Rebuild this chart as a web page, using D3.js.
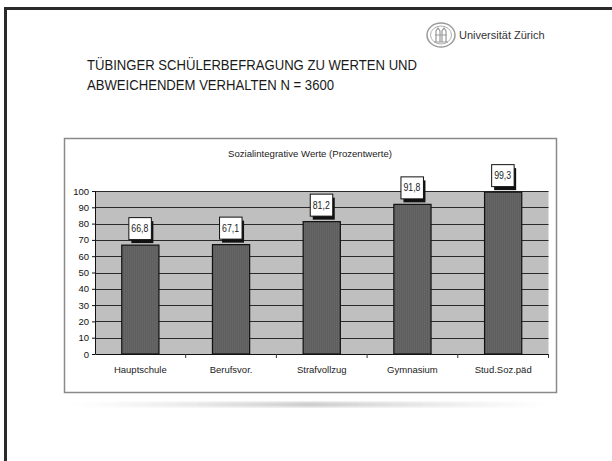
<!DOCTYPE html>
<html><head><meta charset="utf-8">
<script src="https://cdn.jsdelivr.net/npm/d3@7/dist/d3.min.js"></script>
<style>html,body{margin:0;padding:0;background:#fff;}svg{display:block;}</style>
</head><body>
<script>
const categories = ["Hauptschule", "Berufsvor.", "Strafvollzug", "Gymnasium", "Stud.Soz.päd"];
const values = [66.8, 67.1, 81.2, 91.8, 99.3];
const yTicks = [0, 10, 20, 30, 40, 50, 60, 70, 80, 90, 100];
const titleLines = ["TÜBINGER SCHÜLERBEFRAGUNG ZU WERTEN UND", "ABWEICHENDEM VERHALTEN N = 3600"];
const chartTitle = "Sozialintegrative Werte (Prozentwerte)";
const logoText = "Universität Zürich";

const W = 612, H = 461;
const svg = d3.select("body").append("svg").attr("width", W).attr("height", H);
const defs = svg.append("defs");

svg.append("rect").attr("width", W).attr("height", H).attr("fill", "#fff");

// slide frame (top & left)
svg.append("path").attr("d", "M5.5,461 V8.5 H612").attr("fill", "none")
  .attr("stroke", "#2a2a2a").attr("stroke-width", 3);

// title (condensed)
const font = "'Liberation Sans Narrow','Arial Narrow','Liberation Sans',Arial,sans-serif";
const titleWidths = [330, 247];
svg.append("g").selectAll("text").data(titleLines).join("text")
  .attr("x", 87).attr("y", (d, i) => 70 + i * 20)
  .attr("font-family", font).attr("font-size", 15.5).attr("fill", "#1a1a1a")
  .attr("textLength", (d, i) => titleWidths[i]).attr("lengthAdjust", "spacingAndGlyphs")
  .text(d => d);

// logo
const logo = svg.append("g").attr("transform", "translate(441,35)");
logo.append("ellipse").attr("rx", 14).attr("ry", 12).attr("fill", "#fff").attr("stroke", "#9a9a9a").attr("stroke-width", 1.5);
logo.append("ellipse").attr("rx", 10.5).attr("ry", 9).attr("fill", "none").attr("stroke", "#b0b0b0").attr("stroke-width", 1);
logo.append("path").attr("d", "M-5,7 V-4 L-3,-7 L-1,-4 V7 M1,7 V-4 L3,-7 L5,-4 V7 M-7,7 H7 M-6,0 H6")
  .attr("fill", "none").attr("stroke", "#999").attr("stroke-width", 1.2);
svg.append("text").attr("x", 459).attr("y", 39)
  .attr("font-family", "'Liberation Sans',Arial,sans-serif").attr("font-size", 11).attr("fill", "#333")
  .text(logoText);

// reflection shadow under chart
const lg = defs.append("linearGradient").attr("id", "shad").attr("x1", 0).attr("x2", 1);
lg.append("stop").attr("offset", 0).attr("stop-color", "#d8d8d8").attr("stop-opacity", 0);
lg.append("stop").attr("offset", 0.5).attr("stop-color", "#c8c8c8").attr("stop-opacity", 1);
lg.append("stop").attr("offset", 1).attr("stop-color", "#d8d8d8").attr("stop-opacity", 0);
defs.append("filter").attr("id", "blur").append("feGaussianBlur").attr("stdDeviation", 1.5);
svg.append("rect").attr("x", 70).attr("y", 402).attr("width", 480).attr("height", 5)
  .attr("fill", "url(#shad)").attr("filter", "url(#blur)");

// chart box
svg.append("rect").attr("x", 64.5).attr("y", 138.5).attr("width", 492).attr("height", 254)
  .attr("fill", "#fff").attr("stroke", "#8a8a8a").attr("stroke-width", 1.5);

svg.append("text").attr("x", 310).attr("y", 157).attr("text-anchor", "middle")
  .attr("font-family", "'Liberation Sans',Arial,sans-serif").attr("font-size", 9.3).attr("fill", "#222")
  .attr("textLength", 164).attr("lengthAdjust", "spacingAndGlyphs")
  .text(chartTitle);

// scales
const x0 = 95, x1 = 548.5, yTop = 191, yBot = 354;
const x = d3.scaleBand().domain(categories).range([x0, x1]).paddingInner(0.59).paddingOuter(0.295);
const y = d3.scaleLinear().domain([0, 100]).range([yBot, yTop]);

// plot bg
svg.append("rect").attr("x", x0).attr("y", yTop).attr("width", x1 - x0).attr("height", yBot - yTop)
  .attr("fill", "#bfbfbf");

// grid
svg.append("g").selectAll("line").data(yTicks.filter(d => d > 0)).join("line")
  .attr("x1", x0).attr("x2", x1).attr("y1", d => Math.round(y(d)) + 0.5).attr("y2", d => Math.round(y(d)) + 0.5)
  .attr("stroke", "#2a2a2a").attr("stroke-width", 1);

// bar texture
const pat = defs.append("pattern").attr("id", "barpat").attr("patternUnits", "userSpaceOnUse")
  .attr("width", 2).attr("height", 4);
pat.append("rect").attr("width", 2).attr("height", 4).attr("fill", "#5e5e5e");
pat.append("rect").attr("width", 1).attr("height", 4).attr("fill", "#666");

// bars
svg.append("g").selectAll("rect").data(values).join("rect")
  .attr("x", (d, i) => x(categories[i]))
  .attr("y", d => y(d))
  .attr("width", x.bandwidth())
  .attr("height", d => yBot - y(d))
  .attr("fill", "url(#barpat)").attr("stroke", "#111").attr("stroke-width", 1.2);

// axes
const yAxis = d3.axisLeft(y).tickValues(yTicks).tickSize(3).tickPadding(3).tickSizeOuter(0);
const gy = svg.append("g").attr("transform", `translate(${x0},0)`).call(yAxis);
gy.select(".domain").attr("stroke", "#111");
gy.selectAll(".tick line").attr("stroke", "#111");
gy.selectAll("text").attr("font-family", "'Liberation Sans',Arial,sans-serif").attr("font-size", 9.5).attr("fill", "#111");

const xAxis = d3.axisBottom(x).tickSize(0).tickPadding(12).tickSizeOuter(0);
const gx = svg.append("g").attr("transform", `translate(0,${yBot})`).call(xAxis);
gx.select(".domain").attr("stroke", "#111");
gx.selectAll("text").attr("font-family", "'Liberation Sans',Arial,sans-serif").attr("font-size", 9.5).attr("fill", "#222");
// boundary ticks
const step = x.step();
gx.append("g").selectAll("line").data(categories).join("line")
  .attr("x1", (d, i) => x0 + step * (i + 1)).attr("x2", (d, i) => x0 + step * (i + 1))
  .attr("y1", 0).attr("y2", 4).attr("stroke", "#333");

// value labels
const lab = svg.append("g").selectAll("g").data(values).join("g")
  .attr("transform", (d, i) => `translate(${x(categories[i]) + x.bandwidth() / 2},${y(d) - 5})`);
lab.append("rect").attr("x", -9).attr("y", -19).attr("width", 22).attr("height", 22).attr("fill", "#111");
lab.append("rect").attr("x", -11.5).attr("y", -22.5).attr("width", 22.5).attr("height", 22)
  .attr("fill", "#fff").attr("stroke", "#111").attr("stroke-width", 1);
lab.append("text").attr("x", -0.5).attr("y", -8).attr("text-anchor", "middle")
  .attr("font-family", "'Liberation Sans',Arial,sans-serif").attr("font-size", 10).attr("fill", "#222")
  .attr("textLength", 17).attr("lengthAdjust", "spacingAndGlyphs")
  .text(d => d.toFixed(1).replace(".", ","));
</script>
</body></html>
